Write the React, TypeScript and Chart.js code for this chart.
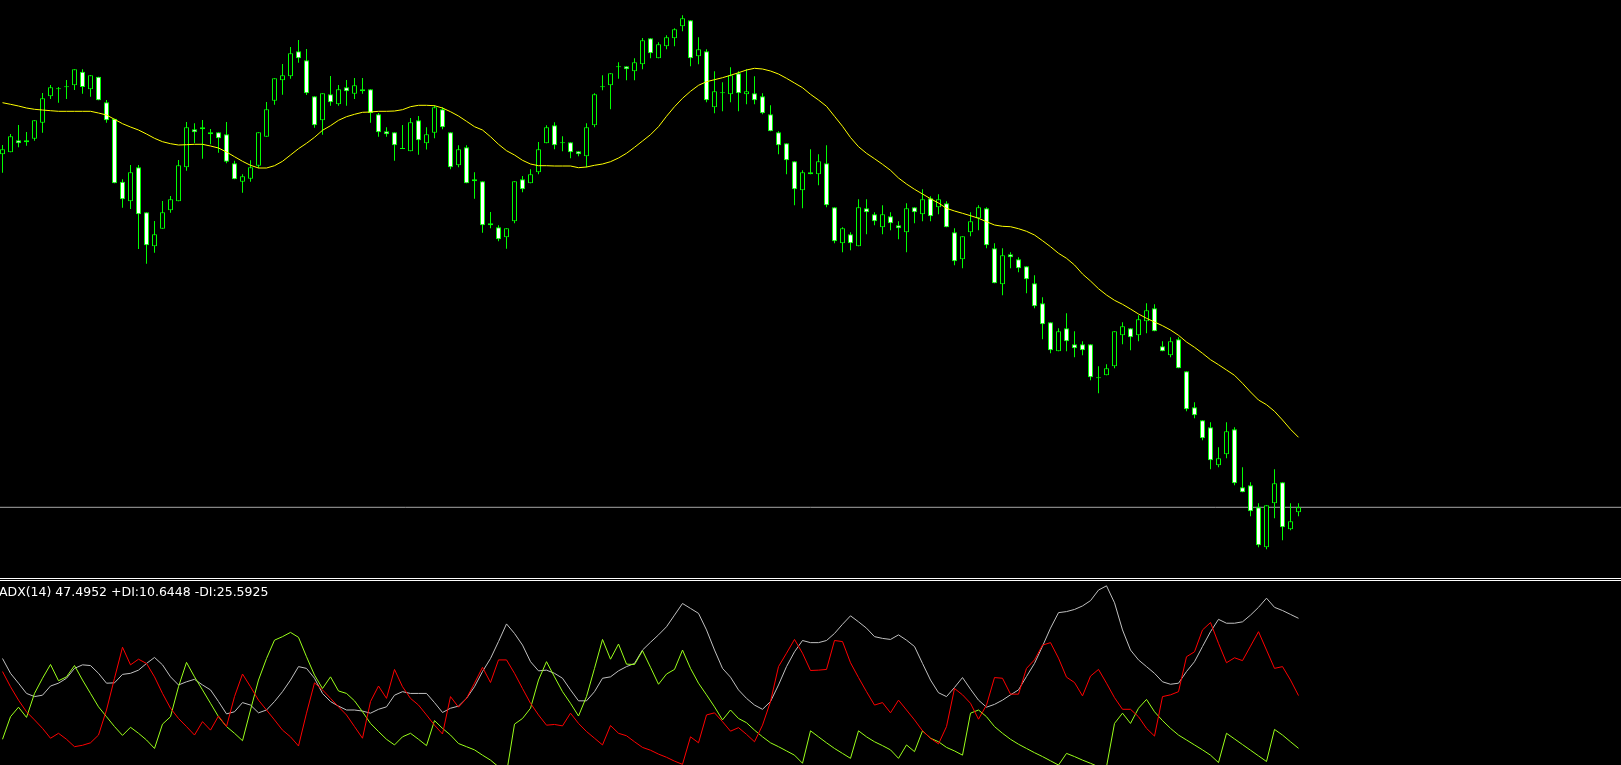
import React, { useEffect, useRef } from "react";
import { Chart, registerables } from "chart.js";

Chart.register(...registerables);

// ---- price data (one candle per bar, arbitrary price units) ----
const openPrices = [
  445.7, 447.7, 459.7, 457.7, 461.3, 477.3, 503.7, 510.7, 512.7, 514.7,
  528.3, 510.7, 523.3, 497.7, 481.3, 418.3, 398.7, 432.7, 387.7, 353.7,
  371.3, 389.7, 398.7, 432.7, 470.7, 470.7, 467.7, 467.7, 465.7, 436.7,
  418.3, 421.3, 434.3, 463.3, 499.3, 519.7, 523.7, 548.7, 539.7, 503.7,
  479.7, 505.7, 495.7, 512.7, 506.3, 510.7, 510.7, 485.7, 468.7, 467.7,
  451.0, 448.7, 479.7, 456.7, 467.3, 490.7, 467.7, 434.7, 452.7, 420.7,
  418.7, 376.7, 372.7, 362.7, 378.7, 420.7, 416.7, 427.7, 456.7, 474.7,
  456.7, 457.7, 448.7, 443.7, 474.7, 512.7, 514.7, 532.7, 533.7, 528.7,
  535.7, 561.7, 541.7, 553.7, 561.7, 573.7, 579.7, 543.7, 548.7, 492.7,
  506.7, 505.7, 526.7, 505.7, 506.7, 503.7, 485.7, 467.7, 456.7, 438.7,
  409.7, 425.7, 425.7, 436.7, 392.7, 356.7, 365.7, 353.7, 391.7, 385.7,
  372.7, 383.7, 374.7, 367.7, 392.7, 385.7, 401.7, 392.7, 396.7, 367.7,
  340.7, 367.7, 381.7, 391.7, 351.7, 315.7, 345.7, 340.7, 333.7, 316.7,
  296.7, 277.7, 248.7, 271.7, 255.7, 255.7, 255.7, 221.7, 224.7, 233.7,
  264.7, 271.7, 264.7, 278.7, 291.7, 253.7, 244.7, 260.7, 228.7, 192.7,
  179.7, 172.7, 134.7, 145.7, 170.7, 112.7, 114.7, 92.7, 52.7, 96.7,
  117.7, 70.7, 87.7,
];

const highPrices = [
  455.0, 466.0, 475.0, 468.0, 479.7, 507.0, 515.0, 513.0, 520.0, 530.7,
  530.7, 524.7, 523.3, 500.0, 481.3, 420.7, 435.0, 435.0, 387.7, 379.0,
  399.0, 404.0, 440.0, 478.0, 476.7, 480.0, 471.0, 467.7, 478.0, 439.3,
  425.7, 439.7, 467.7, 498.0, 521.7, 536.0, 553.0, 560.0, 551.0, 503.7,
  506.7, 524.0, 515.0, 520.0, 522.0, 522.0, 510.7, 487.0, 472.7, 467.7,
  475.0, 482.0, 484.0, 472.7, 494.7, 492.7, 467.7, 454.7, 454.7, 427.7,
  418.7, 388.0, 374.7, 371.7, 418.7, 424.0, 430.7, 458.0, 474.7, 477.7,
  463.7, 457.7, 448.7, 476.7, 506.7, 524.7, 526.7, 537.7, 533.7, 541.7,
  562.0, 561.7, 557.7, 564.7, 571.7, 584.7, 579.7, 562.7, 550.7, 528.7,
  517.7, 532.7, 528.7, 530.7, 523.7, 506.7, 494.7, 468.7, 456.7, 438.7,
  429.7, 450.7, 445.7, 454.7, 392.7, 372.7, 367.7, 400.7, 400.7, 387.7,
  394.7, 387.7, 378.7, 396.7, 392.7, 410.7, 403.7, 405.7, 398.7, 371.7,
  363.7, 387.7, 394.7, 392.7, 356.7, 351.7, 347.7, 342.7, 333.7, 324.7,
  302.7, 277.7, 271.7, 286.7, 268.7, 258.7, 255.7, 233.7, 235.7, 268.7,
  277.7, 271.7, 284.7, 296.7, 295.7, 258.7, 262.7, 262.7, 228.7, 197.7,
  179.7, 177.7, 152.7, 177.7, 172.7, 132.7, 117.7, 96.7, 94.7, 130.7,
  117.7, 96.7, 96.7,
];

const lowPrices = [
  427.3, 447.7, 452.7, 454.3, 459.3, 467.3, 501.0, 497.3, 501.0, 510.0,
  506.3, 503.3, 499.7, 477.3, 416.7, 392.3, 391.0, 351.0, 336.3, 347.3,
  371.3, 387.3, 398.7, 429.3, 457.0, 441.3, 455.7, 447.3, 436.7, 420.7,
  407.3, 418.3, 432.0, 463.3, 495.3, 505.3, 521.3, 537.3, 505.0, 472.3,
  465.3, 494.3, 494.3, 494.3, 501.0, 506.3, 477.3, 463.3, 463.3, 439.3,
  451.0, 448.7, 445.3, 450.5, 461.7, 470.7, 430.7, 432.7, 416.7, 401.3,
  367.3, 371.7, 358.7, 351.3, 376.7, 407.7, 416.7, 425.7, 456.7, 450.7,
  448.7, 441.7, 443.7, 432.7, 472.7, 509.7, 490.7, 521.3, 519.7, 519.7,
  530.7, 541.7, 541.7, 550.7, 553.7, 568.7, 533.7, 535.7, 497.7, 486.7,
  488.7, 497.7, 488.7, 495.7, 495.7, 485.7, 468.7, 445.7, 425.7, 394.7,
  391.7, 425.7, 414.7, 392.7, 356.7, 347.7, 349.7, 353.7, 365.7, 374.7,
  365.7, 369.7, 360.7, 347.7, 376.7, 378.7, 378.7, 385.7, 372.7, 334.7,
  331.7, 363.7, 369.7, 351.7, 316.7, 304.7, 331.7, 327.7, 306.7, 291.7,
  260.7, 246.7, 248.7, 248.7, 242.7, 244.7, 219.7, 206.7, 224.7, 231.7,
  255.7, 249.7, 258.7, 266.7, 268.7, 248.7, 242.7, 231.7, 188.7, 181.7,
  159.7, 130.7, 132.7, 141.7, 114.7, 107.7, 83.7, 52.7, 50.7, 81.7,
  59.7, 69.7, 83.7,
];

const closePrices = [
  450.7, 463.7, 456.7, 459.7, 479.7, 501.7, 512.7, 510.7, 512.7, 530.7,
  513.0, 524.7, 499.7, 479.7, 416.7, 400.7, 427.7, 385.7, 354.7, 365.7,
  387.7, 400.7, 434.7, 472.7, 467.7, 472.7, 465.7, 461.7, 438.3, 420.7,
  423.7, 432.7, 467.7, 490.7, 521.7, 524.7, 546.7, 541.7, 506.7, 474.7,
  506.7, 497.7, 510.7, 508.7, 514.7, 508.7, 487.0, 467.7, 465.7, 454.7,
  451.0, 477.7, 459.7, 465.7, 492.7, 472.7, 432.7, 450.7, 416.7, 418.7,
  374.7, 374.7, 360.7, 371.7, 418.7, 410.7, 425.7, 450.7, 472.7, 454.7,
  456.7, 447.7, 445.7, 472.7, 505.7, 512.7, 526.7, 532.7, 530.7, 537.7,
  559.7, 546.7, 555.7, 562.7, 570.7, 581.7, 541.7, 550.7, 499.7, 508.7,
  506.7, 524.7, 506.7, 508.7, 499.7, 486.7, 468.7, 454.7, 439.7, 410.7,
  427.7, 427.7, 438.7, 394.7, 358.7, 371.7, 356.7, 392.7, 387.7, 378.7,
  385.7, 376.7, 371.7, 391.7, 387.7, 400.7, 383.7, 400.7, 372.7, 338.7,
  363.7, 378.7, 392.7, 354.7, 316.7, 344.7, 342.7, 331.7, 320.7, 293.7,
  275.7, 249.7, 268.7, 258.7, 251.7, 249.7, 222.7, 221.7, 231.7, 268.7,
  273.7, 262.7, 280.7, 289.7, 268.7, 248.7, 258.7, 231.7, 190.7, 184.7,
  161.7, 139.7, 141.7, 168.7, 116.7, 107.7, 88.7, 54.7, 94.7, 116.7,
  72.7, 78.7, 92.7,
];

// yellow moving average, one value per candle
const maValues = [
  497.3, 495.7, 494.0, 492.0, 490.7, 490.0, 489.3, 488.7, 488.7, 488.7,
  488.7, 488.7, 487.0, 485.0, 480.7, 476.3, 473.0, 470.0, 466.0, 461.7,
  458.3, 456.3, 455.0, 455.3, 455.7, 455.7, 454.0, 452.0, 448.0, 443.3,
  438.7, 434.7, 432.0, 432.0, 434.3, 438.7, 445.0, 451.3, 456.7, 462.7,
  469.7, 474.3, 479.7, 483.3, 485.7, 487.7, 488.0, 488.7, 488.7, 489.0,
  490.3, 493.3, 494.7, 494.7, 494.3, 492.0, 488.3, 484.0, 478.7, 473.3,
  470.0, 463.3, 455.7, 449.3, 445.0, 439.7, 436.0, 434.3, 434.3, 434.0,
  434.0, 434.0, 432.3, 433.0, 434.7, 436.0, 438.3, 442.0, 446.7, 452.7,
  459.0, 465.3, 473.3, 483.7, 493.3, 501.7, 508.7, 514.7, 518.3, 520.3,
  522.3, 524.7, 527.3, 530.0, 531.7, 531.0, 529.0, 526.0, 521.7, 517.0,
  512.3, 505.7, 500.0, 493.7, 483.7, 473.7, 462.5, 453.3, 446.7, 441.3,
  435.7, 429.7, 422.0, 416.0, 410.7, 406.0, 401.3, 397.0, 391.7, 389.0,
  386.7, 384.3, 381.7, 378.3, 375.0, 373.7, 373.3, 371.3, 368.7, 365.0,
  359.3, 353.3, 346.7, 341.7, 335.0, 326.0, 319.0, 311.3, 305.0, 299.7,
  295.7, 291.0, 286.0, 281.7, 278.0, 274.3, 270.0, 264.7, 258.0, 252.7,
  246.7, 240.3, 235.3, 230.0, 224.7, 216.7, 208.0, 200.0, 195.3, 188.7,
  180.0, 170.7, 162.7,
];

// ---- ADX(14) indicator ----
const adxValues = [
  36.1, 31.9, 29.1, 26.2, 25.3, 25.7, 28.3, 29.1, 30.5, 33.3,
  34.3, 34.1, 31.9, 29.1, 29.2, 31.6, 31.9, 32.8, 34.7, 36.4,
  34.3, 30.9, 28.6, 29.5, 30.2, 28.6, 27.2, 23.9, 20.4, 21.0,
  23.6, 22.9, 20.7, 21.5, 23.9, 26.7, 30.0, 33.8, 33.3, 30.5,
  26.2, 23.9, 22.6, 21.5, 21.5, 21.2, 20.6, 21.7, 22.4, 25.7,
  26.7, 26.2, 26.2, 26.2, 23.6, 20.8, 22.0, 22.6, 24.8, 28.1,
  32.4, 36.1, 40.9, 45.9, 43.2, 39.9, 35.2, 32.6, 32.8, 31.9,
  30.5, 27.2, 24.1, 24.1, 26.7, 30.5, 30.9, 32.6, 33.8, 34.7,
  38.5, 40.7, 42.8, 45.1, 48.4, 51.7, 50.3, 48.9, 44.2, 38.5,
  33.3, 30.8, 27.2, 24.8, 22.9, 21.7, 23.9, 28.6, 33.8, 38.0,
  41.2, 40.6, 40.6, 41.2, 43.2, 45.8, 48.2, 46.5, 44.7, 42.3,
  41.8, 41.5, 42.8, 41.3, 39.5, 34.7, 30.0, 26.4, 25.3, 27.9,
  30.7, 27.4, 24.3, 22.3, 23.1, 24.3, 25.8, 27.2, 31.0, 34.7,
  39.6, 44.7, 49.1, 49.4, 50.0, 51.0, 52.5, 55.5, 56.7, 51.9,
  44.2, 38.5, 35.7, 33.8, 31.9, 29.5, 28.8, 29.1, 32.4, 35.2,
  39.5, 43.7, 47.2, 46.1, 46.1, 46.5, 48.4, 50.6, 53.2, 50.6,
  49.7, 48.6, 47.4952,
];

const plusDIValues = [
  13.2, 19.6, 22.3, 19.4, 26.2, 30.5, 34.4, 29.8, 30.9, 34.1,
  30.0, 26.2, 22.4, 19.6, 16.8, 14.3, 16.6, 14.9, 13.0, 10.6,
  17.5, 19.6, 28.1, 35.0, 30.9, 27.2, 23.4, 19.6, 16.8, 14.9,
  12.8, 21.5, 30.0, 36.1, 41.3, 42.3, 43.5, 42.1, 36.6, 31.4,
  27.6, 30.9, 26.9, 26.2, 24.1, 21.0, 17.7, 15.4, 13.2, 11.6,
  13.9, 14.9, 13.2, 11.4, 18.5, 16.3, 14.4, 12.0, 11.1, 10.2,
  8.7, 7.3, 5.4, 3.5, 17.5, 19.1, 22.0, 30.0, 35.2, 30.9,
  26.7, 23.4, 19.8, 25.3, 33.3, 41.5, 35.9, 40.2, 34.5, 34.4,
  38.3, 33.6, 28.8, 31.7, 33.0, 38.5, 33.3, 29.1, 25.8, 22.4,
  18.7, 21.5, 19.1, 17.9, 15.8, 13.9, 12.2, 11.1, 9.9, 8.7,
  6.4, 15.6, 13.9, 12.2, 10.6, 9.2, 7.8, 15.6, 13.9, 12.5,
  11.4, 10.2, 7.8, 11.6, 9.7, 15.6, 13.5, 12.5, 10.9, 9.9,
  8.7, 20.6, 21.5, 19.6, 16.8, 14.9, 13.2, 11.8, 10.6, 9.4,
  8.3, 7.1, 5.9, 9.2, 8.3, 7.3, 6.4, 5.4, 5.4, 17.7,
  20.6, 17.7, 22.0, 24.5, 21.0, 18.5, 16.3, 14.4, 13.0, 11.6,
  10.2, 8.7, 6.6, 14.9, 13.3, 11.7, 10.1, 8.5, 6.9, 16.0,
  14.4, 12.5, 10.6448,
];

const minusDIValues = [
  32.4, 28.1, 24.3, 21.0, 18.7, 16.3, 13.5, 14.9, 13.2, 11.1,
  11.5, 12.2, 14.4, 21.5, 30.5, 39.3, 34.3, 35.9, 34.7, 30.9,
  26.2, 22.0, 19.1, 16.8, 14.4, 18.2, 15.8, 19.8, 16.8, 25.3,
  31.7, 28.1, 24.3, 21.5, 18.7, 15.8, 13.9, 11.3, 20.6, 29.2,
  27.2, 24.8, 22.4, 20.1, 16.8, 13.5, 23.9, 28.3, 24.8, 33.0,
  28.1, 24.8, 22.9, 20.1, 17.2, 14.7, 25.3, 22.3, 24.8, 29.1,
  33.6, 29.3, 35.7, 35.7, 31.9, 27.6, 23.4, 20.1, 17.2, 17.4,
  17.0, 20.6, 17.7, 15.4, 13.5, 11.6, 17.1, 14.9, 14.2, 12.5,
  10.9, 10.1, 9.0, 8.1, 7.0, 6.1, 13.9, 12.2, 20.1, 20.7,
  18.2, 15.5, 16.5, 14.6, 12.5, 17.2, 23.9, 33.8, 37.6, 41.5,
  37.6, 32.7, 32.8, 33.0, 41.2, 40.9, 34.9, 30.7, 26.7, 22.9,
  23.6, 20.7, 24.3, 21.5, 18.7, 15.6, 13.5, 11.9, 16.8, 27.6,
  25.8, 23.4, 18.9, 22.9, 30.7, 30.5, 26.0, 26.0, 33.3, 35.7,
  39.9, 40.6, 36.2, 30.8, 29.3, 25.5, 31.1, 33.0, 29.1, 25.0,
  21.7, 21.7, 19.6, 16.3, 14.1, 25.3, 25.8, 26.7, 36.6, 38.0,
  44.2, 46.3, 40.4, 34.9, 36.3, 35.5, 39.6, 43.7, 38.5, 33.3,
  33.8, 30.0, 25.5925,
];

const ADX_PERIOD = 14;

// ---- layout ----
const WIDTH = 1621;
const HEIGHT = 765;
const MAIN_H = 578;
const ADX_TOP = 581;
const ADX_H = HEIGHT - ADX_TOP;
const BAR_STEP = 8;
const X_MIN = -2.5 / BAR_STEP;
const X_MAX = X_MIN + WIDTH / BAR_STEP;
const PRICE_MIN = 22;
const PRICE_MAX = 600;
const ADX_MIN = 5.91;
const ADX_MAX = 58.07;

const CANDLE_GREEN = "#00FF00";

export default function App() {
  const mainRef = useRef<HTMLCanvasElement | null>(null);
  const adxRef = useRef<HTMLCanvasElement | null>(null);

  useEffect(() => {
    document.body.style.margin = "0";
    document.body.style.background = "#000000";

    const idx = openPrices.map((_, i) => i);
    const bodies = idx.map((i) => ({ x: i, y: [openPrices[i], closePrices[i]] }));
    const wicks = idx.map((i) => ({ x: i, y: [lowPrices[i], highPrices[i]] }));
    const bodyFill = idx.map((i) => (closePrices[i] < openPrices[i] ? "#FFFFFF" : "#000000"));
    const ma = idx.map((i) => ({ x: i, y: maValues[i] }));
    const lastClose = closePrices[closePrices.length - 1];

    const xScale = {
      type: "linear" as const,
      min: X_MIN,
      max: X_MAX,
      offset: false,
      display: false,
    };

    const mainChart = new Chart(mainRef.current as HTMLCanvasElement, {
      type: "bar",
      data: {
        datasets: [
          {
            type: "line",
            label: "MA",
            data: ma,
            borderColor: "#FFFF00",
            borderWidth: 1,
            pointRadius: 0,
            tension: 0,
            order: 0,
          } as any,
          {
            type: "bar",
            label: "Body",
            data: bodies,
            backgroundColor: bodyFill,
            borderColor: CANDLE_GREEN,
            borderWidth: 1,
            borderSkipped: false,
            barThickness: 5,
            grouped: false,
            minBarLength: 1,
            inflateAmount: 0,
            order: 1,
          } as any,
          {
            type: "bar",
            label: "Wick",
            data: wicks,
            backgroundColor: CANDLE_GREEN,
            borderWidth: 0,
            barThickness: 1,
            grouped: false,
            inflateAmount: 0,
            order: 2,
          } as any,
          {
            type: "line",
            label: "Bid",
            data: [
              { x: X_MIN, y: lastClose },
              { x: X_MAX, y: lastClose },
            ],
            borderColor: "#A8A8A8",
            borderWidth: 1,
            pointRadius: 0,
            order: 3,
          } as any,
        ],
      },
      options: {
        responsive: false,
        animation: false,
        devicePixelRatio: 1,
        events: [],
        layout: { padding: 0 },
        plugins: {
          legend: { display: false },
          tooltip: { enabled: false },
          title: { display: false },
        },
        scales: {
          x: xScale as any,
          y: { type: "linear", min: PRICE_MIN, max: PRICE_MAX, display: false },
        },
      },
    });

    const toPts = (arr: number[]) => arr.map((v, i) => ({ x: i, y: v }));
    const adxChart = new Chart(adxRef.current as HTMLCanvasElement, {
      type: "line",
      data: {
        datasets: [
          {
            label: "-DI",
            data: toPts(minusDIValues),
            borderColor: "#FF0000",
            borderWidth: 1,
            pointRadius: 0,
            tension: 0,
          },
          {
            label: "+DI",
            data: toPts(plusDIValues),
            borderColor: "#9AFF1A",
            borderWidth: 1,
            pointRadius: 0,
            tension: 0,
          },
          {
            label: "ADX",
            data: toPts(adxValues),
            borderColor: "#C0C0C0",
            borderWidth: 1,
            pointRadius: 0,
            tension: 0,
          },
        ],
      },
      options: {
        responsive: false,
        animation: false,
        devicePixelRatio: 1,
        events: [],
        layout: { padding: 0 },
        plugins: {
          legend: { display: false },
          tooltip: { enabled: false },
          title: { display: false },
        },
        scales: {
          x: xScale as any,
          y: { type: "linear", min: ADX_MIN, max: ADX_MAX, display: false },
        },
      },
    });

    return () => {
      mainChart.destroy();
      adxChart.destroy();
    };
  }, []);

  const last = adxValues.length - 1;
  const label =
    `ADX(${ADX_PERIOD}) ${adxValues[last].toFixed(4)} ` +
    `+DI:${plusDIValues[last].toFixed(4)} -DI:${minusDIValues[last].toFixed(4)}`;

  return (
    <div
      style={{
        position: "fixed",
        left: 0,
        top: 0,
        width: WIDTH,
        height: HEIGHT,
        background: "#000000",
        overflow: "hidden",
      }}
    >
      <canvas
        ref={mainRef}
        width={WIDTH}
        height={MAIN_H}
        style={{ position: "absolute", left: 0, top: 0, width: WIDTH, height: MAIN_H }}
      />
      <div style={{ position: "absolute", left: 0, top: 578, width: WIDTH, height: 1, background: "#FFFFFF" }} />
      <div style={{ position: "absolute", left: 0, top: 580, width: WIDTH, height: 1, background: "#FFFFFF" }} />
      <canvas
        ref={adxRef}
        width={WIDTH}
        height={ADX_H}
        style={{ position: "absolute", left: 0, top: ADX_TOP, width: WIDTH, height: ADX_H }}
      />
      <div
        style={{
          position: "absolute",
          left: -1,
          top: 585,
          color: "#FFFFFF",
          fontFamily: '"DejaVu Sans", sans-serif',
          fontSize: "12.5px",
          lineHeight: "14px",
          whiteSpace: "nowrap",
        }}
      >
        {label}
      </div>
    </div>
  );
}
